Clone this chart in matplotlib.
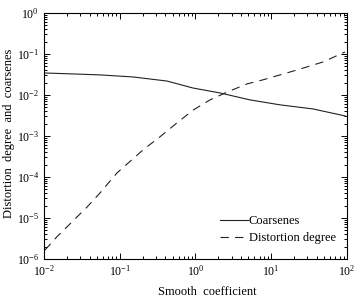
import numpy as np
import matplotlib
matplotlib.use('Agg')
import matplotlib.pyplot as plt

# log10 values
coarse_logx = [-2.0, -1.59, -1.26, -0.825, -0.376, -0.033, 0.323, 0.72, 1.115, 1.55, 1.974]
coarse_logy = [-1.463, -1.488, -1.51, -1.56, -1.66, -1.83, -1.95, -2.12, -2.24, -2.34, -2.51]

dist_logx = [-1.987, -1.83, -1.43, -1.261, -1.036, -0.693, -0.469, -0.244, -0.033, 0.191,
             0.416, 0.68, 0.891, 1.34, 1.683, 1.974]
dist_logy = [-5.78, -5.46, -4.73, -4.39, -3.90, -3.34, -3.02, -2.68, -2.37, -2.12,
             -1.93, -1.73, -1.63, -1.39, -1.195, -0.95]

plt.rcParams['font.family'] = ['Liberation Serif', 'DejaVu Serif']
plt.rcParams['mathtext.fontset'] = 'stix'
plt.rcParams['lines.scale_dashes'] = False


def main():
    fig = plt.figure(figsize=(3.62, 3.0), dpi=100)
    ax = fig.add_axes([0.1215, 0.1367, 0.8371, 0.82])
    ax.plot(10 ** np.array(coarse_logx), 10 ** np.array(coarse_logy), color='#222222', lw=0.8,
            label='Coarsenes')
    ax.plot(10 ** np.array(dist_logx), 10 ** np.array(dist_logy), color='#222222', lw=0.8,
            dashes=(6, 4.5), label='Distortion degree')
    ax.set_xscale('log')
    ax.set_yscale('log')
    ax.set_xlim(1e-2, 1e2)
    ax.set_ylim(1e-6, 1e0)
    ax.tick_params(which='both', direction='in', top=True, right=True, labelsize=8.5, width=0.7)
    ax.tick_params(which='major', length=4)
    ax.tick_params(which='minor', length=2)
    for s in ax.spines.values():
        s.set_linewidth(0.8)
    ax.set_xlabel('Smooth  coefficient', fontsize=9)
    ax.set_ylabel('Distortion  degree  and  coarsenes', fontsize=9)
    ax.xaxis.set_label_coords(0.54, -0.11)
    ax.yaxis.set_label_coords(-0.096, 0.51)
    ax.legend(loc='lower right', bbox_to_anchor=(0.98, 0.039), frameon=False, fontsize=9,
              handlelength=2.2, handletextpad=0.1, borderaxespad=0, labelspacing=0.4)
    fig.savefig('out.png', dpi=100)


if __name__ == '__main__':
    main()
